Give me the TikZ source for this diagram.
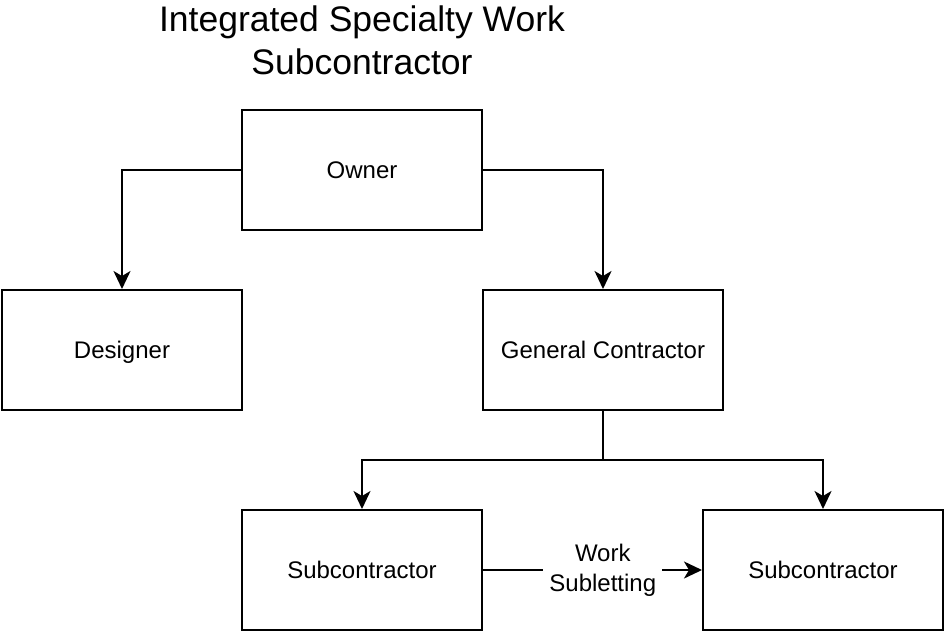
\documentclass[tikz,border=0pt]{standalone}
\usepackage{fontspec}
\setmainfont{Liberation Sans}
\usetikzlibrary{arrows.meta}
\begin{document}
\begin{tikzpicture}[x=1pt,y=-1pt,
  box/.style={draw=black, line width=2pt, fill=white, rectangle,
    minimum width=240pt, minimum height=120pt, inner sep=0pt,
    text height=17.2pt, text depth=0pt,
    font=\fontsize{24}{28.8}\selectfont},
  arr/.style={draw=black, line width=2pt,
    -{Stealth[length=18pt, width=17pt, inset=5pt]}},
  link/.style={draw=black, line width=2pt},
  edgelabel/.style={fill=white, inner xsep=6pt, inner ysep=2pt, align=center,
    font=\fontsize{24}{30}\selectfont},
  heading/.style={anchor=base, inner sep=0pt, font=\fontsize{35.5}{43}\selectfont}]
  \useasboundingbox (0,0) rectangle (945,633);

  % heading
  \node[heading] (title1) at (362,31) {Integrated Specialty Work};
  \node[heading] (title2) at (362,74) {Subcontractor};

  % parties
  \node[box] (owner)    at (362,170) {Owner};
  \node[box] (designer) at (122,350) {Designer};
  \node[box] (gc)       at (603,350) {General Contractor};
  \node[box] (subA)     at (362,570) {Subcontractor};
  \node[box] (subB)     at (823,570) {Subcontractor};

  % contract links
  \draw[arr] (owner.west) -| (designer.north);
  \draw[arr] (owner.east) -| (gc.north);

  \coordinate (split) at (603,460);
  \draw[link] (gc.south) -- (split);
  \draw[arr] (split) -| (subA.north);
  \draw[arr] (split) -| (subB.north);

  \draw[arr] (subA.east) -- node[edgelabel, pos=0.547] (sublet) {Work\\Subletting} (subB.west);
\end{tikzpicture}
\end{document}
